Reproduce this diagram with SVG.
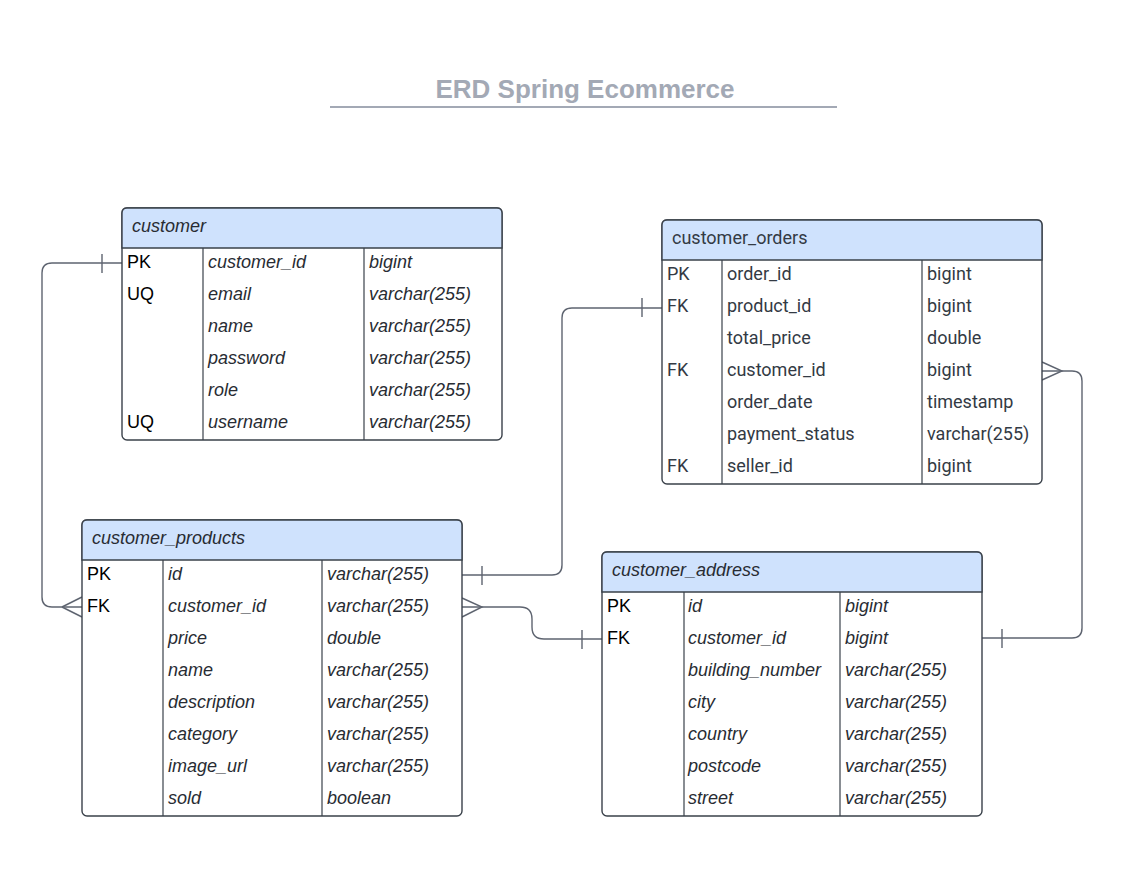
<svg xmlns="http://www.w3.org/2000/svg" width="1137" height="887" viewBox="0 0 1137 887">
<style>
.box{fill:#fff;stroke:#3a414a;stroke-width:1.4}
.hdr{fill:#cfe2fd;stroke:#3a414a;stroke-width:1.4}
.div{stroke:#3a414a;stroke-width:1.2}
.t{font-family:"Liberation Sans",Arial,sans-serif;font-size:18px;fill:#282c33;font-style:italic}
.k{font-family:"Liberation Sans",Arial,sans-serif;font-size:18px;fill:#000}
.r{font-family:Roboto,"Liberation Sans",sans-serif;font-size:18px;fill:#333a44}
.c{fill:none;stroke:#5e6470;stroke-width:1.4}
</style>
<rect width="1137" height="887" fill="#fff"/>
<g id="title">
<text x="585" y="98" text-anchor="middle" font-family="'Liberation Sans',Arial,sans-serif" font-weight="bold" font-size="26" fill="#a3a9b5">ERD Spring Ecommerce</text>
<line x1="330" y1="107" x2="837" y2="107" stroke="#a3a9b5" stroke-width="2"/>
</g>
<g id="connectors">
<path class="c" d="M122,263 H52 Q42,263 42,273 V597 Q42,607 52,607 H82"/>
<path class="c" d="M102,254 V273 M62,607 L82,597 M62,607 L82,617"/>
<path class="c" d="M462,575 H552 Q562,575 562,565 V318 Q562,308 572,308 H662"/>
<path class="c" d="M482,566 V585 M642,298 V317"/>
<path class="c" d="M462,607 H520 Q532,607 532,619 V627 Q532,639 544,639 H602"/>
<path class="c" d="M462,598 L482,607 L462,617 M582,630 V649"/>
<path class="c" d="M1042,371 H1072 Q1082,371 1082,381 V628 Q1082,638 1072,638 H982"/>
<path class="c" d="M1042,362 L1062,371 L1042,380 M1002,629 V648"/>
</g>
<g id="customer">
<rect class="box" x="122" y="208" width="380" height="232" rx="5"/>
<path class="hdr" d="M127,208 H497 Q502,208 502,213 V248 H122 V213 Q122,208 127,208 Z"/>
<line class="div" x1="203" y1="248" x2="203" y2="440"/>
<line class="div" x1="364" y1="248" x2="364" y2="440"/>
<text class="t" x="132" y="232">customer</text>
<text class="k" x="127" y="268">PK</text><text class="t" x="208" y="268">customer_id</text><text class="t" x="369" y="268">bigint</text>
<text class="k" x="127" y="300">UQ</text><text class="t" x="208" y="300">email</text><text class="t" x="369" y="300">varchar(255)</text>
<text class="t" x="208" y="332">name</text><text class="t" x="369" y="332">varchar(255)</text>
<text class="t" x="208" y="364">password</text><text class="t" x="369" y="364">varchar(255)</text>
<text class="t" x="208" y="396">role</text><text class="t" x="369" y="396">varchar(255)</text>
<text class="k" x="127" y="428">UQ</text><text class="t" x="208" y="428">username</text><text class="t" x="369" y="428">varchar(255)</text>
</g>
<g id="customer_orders">
<rect class="box" x="662" y="220" width="380" height="264" rx="5"/>
<path class="hdr" d="M667,220 H1037 Q1042,220 1042,225 V260 H662 V225 Q662,220 667,220 Z"/>
<line class="div" x1="722" y1="260" x2="722" y2="484"/>
<line class="div" x1="922" y1="260" x2="922" y2="484"/>
<text class="r" x="672" y="244">customer_orders</text>
<text class="r" x="667" y="280">PK</text><text class="r" x="727" y="280">order_id</text><text class="r" x="927" y="280">bigint</text>
<text class="r" x="667" y="312">FK</text><text class="r" x="727" y="312">product_id</text><text class="r" x="927" y="312">bigint</text>
<text class="r" x="727" y="344">total_price</text><text class="r" x="927" y="344">double</text>
<text class="r" x="667" y="376">FK</text><text class="r" x="727" y="376">customer_id</text><text class="r" x="927" y="376">bigint</text>
<text class="r" x="727" y="408">order_date</text><text class="r" x="927" y="408">timestamp</text>
<text class="r" x="727" y="440">payment_status</text><text class="r" x="927" y="440">varchar(255)</text>
<text class="r" x="667" y="472">FK</text><text class="r" x="727" y="472">seller_id</text><text class="r" x="927" y="472">bigint</text>
</g>
<g id="customer_products">
<rect class="box" x="82" y="520" width="380" height="296" rx="5"/>
<path class="hdr" d="M87,520 H457 Q462,520 462,525 V560 H82 V525 Q82,520 87,520 Z"/>
<line class="div" x1="163" y1="560" x2="163" y2="816"/>
<line class="div" x1="322" y1="560" x2="322" y2="816"/>
<text class="t" x="92" y="544">customer_products</text>
<text class="k" x="87" y="580">PK</text><text class="t" x="168" y="580">id</text><text class="t" x="327" y="580">varchar(255)</text>
<text class="k" x="87" y="612">FK</text><text class="t" x="168" y="612">customer_id</text><text class="t" x="327" y="612">varchar(255)</text>
<text class="t" x="168" y="644">price</text><text class="t" x="327" y="644">double</text>
<text class="t" x="168" y="676">name</text><text class="t" x="327" y="676">varchar(255)</text>
<text class="t" x="168" y="708">description</text><text class="t" x="327" y="708">varchar(255)</text>
<text class="t" x="168" y="740">category</text><text class="t" x="327" y="740">varchar(255)</text>
<text class="t" x="168" y="772">image_url</text><text class="t" x="327" y="772">varchar(255)</text>
<text class="t" x="168" y="804">sold</text><text class="t" x="327" y="804">boolean</text>
</g>
<g id="customer_address">
<rect class="box" x="602" y="552" width="380" height="264" rx="5"/>
<path class="hdr" d="M607,552 H977 Q982,552 982,557 V592 H602 V557 Q602,552 607,552 Z"/>
<line class="div" x1="684" y1="592" x2="684" y2="816"/>
<line class="div" x1="840" y1="592" x2="840" y2="816"/>
<text class="t" x="612" y="576">customer_address</text>
<text class="k" x="607" y="612">PK</text><text class="t" x="688" y="612">id</text><text class="t" x="845" y="612">bigint</text>
<text class="k" x="607" y="644">FK</text><text class="t" x="688" y="644">customer_id</text><text class="t" x="845" y="644">bigint</text>
<text class="t" x="688" y="676">building_number</text><text class="t" x="845" y="676">varchar(255)</text>
<text class="t" x="688" y="708">city</text><text class="t" x="845" y="708">varchar(255)</text>
<text class="t" x="688" y="740">country</text><text class="t" x="845" y="740">varchar(255)</text>
<text class="t" x="688" y="772">postcode</text><text class="t" x="845" y="772">varchar(255)</text>
<text class="t" x="688" y="804">street</text><text class="t" x="845" y="804">varchar(255)</text>
</g>
</svg>
